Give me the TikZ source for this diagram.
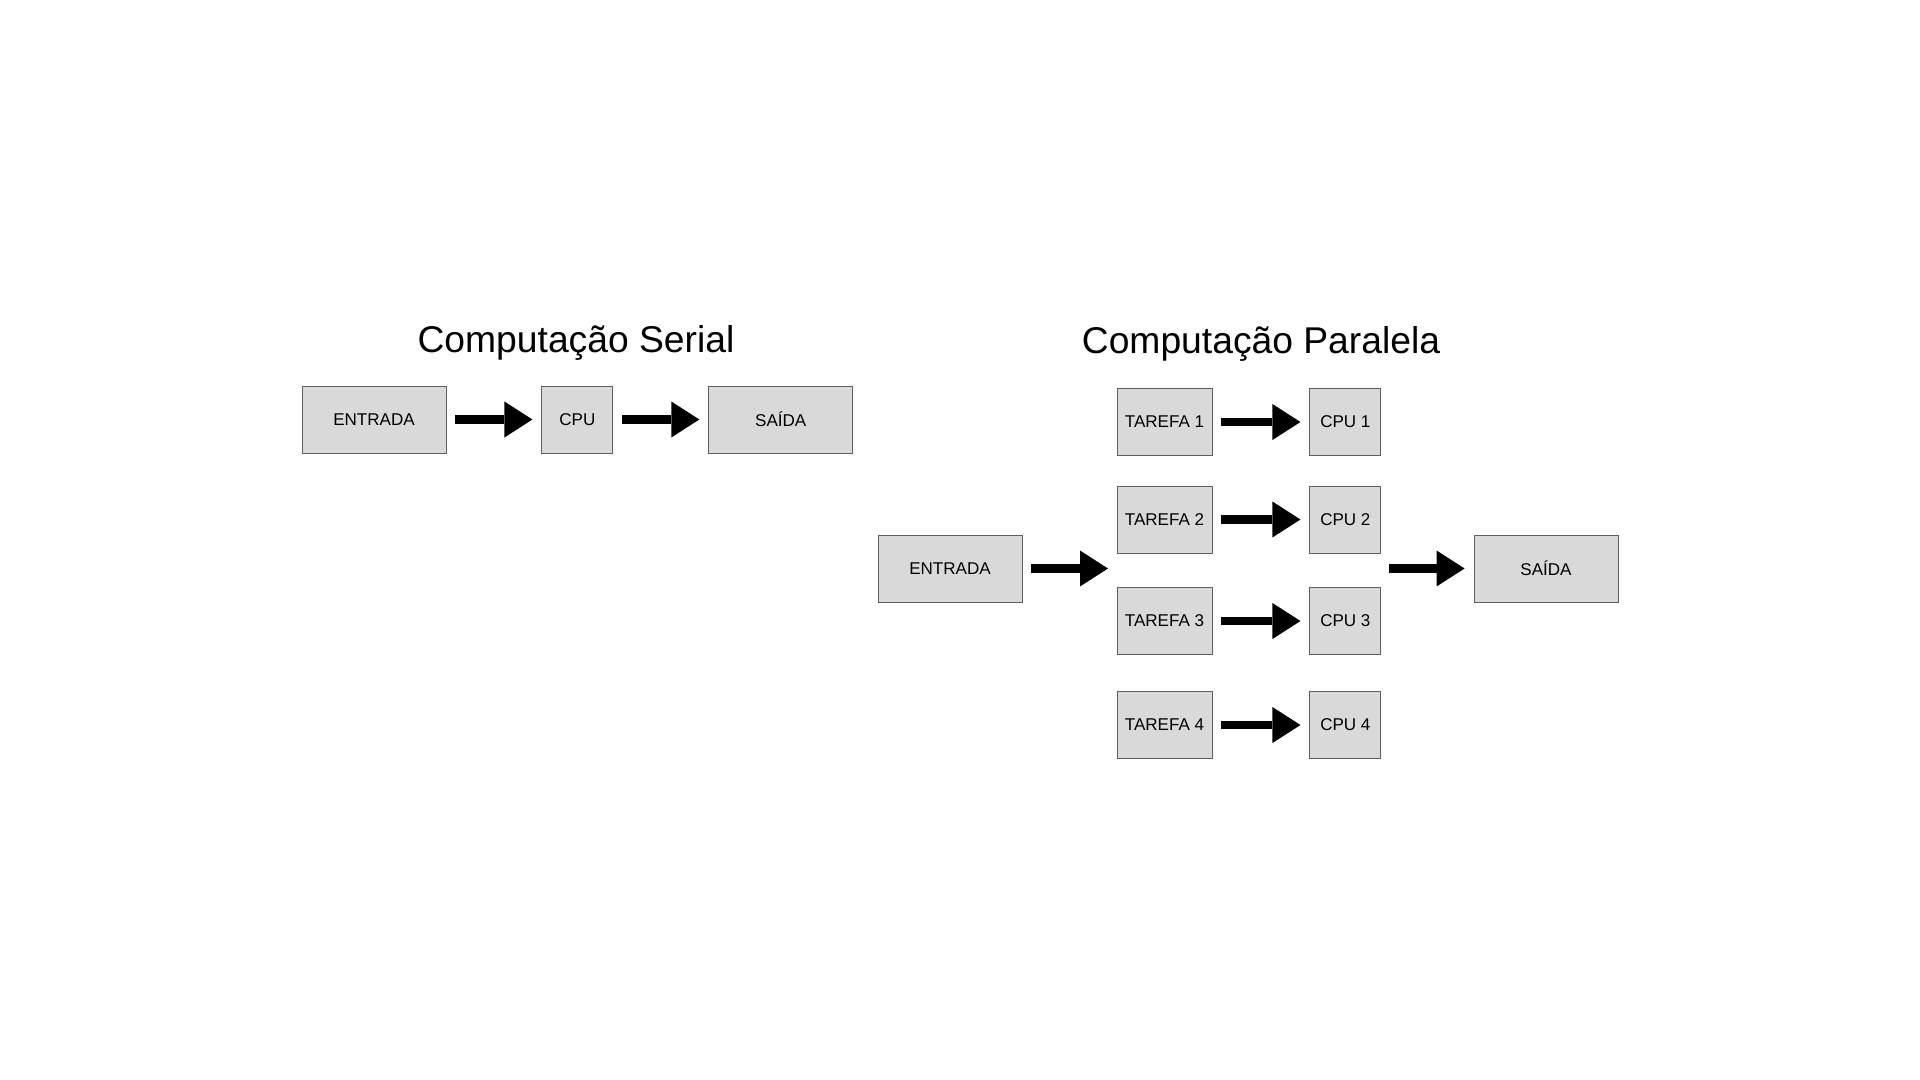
\documentclass[tikz,border=0pt]{standalone}
\usepackage{fontspec}
\setmainfont{Liberation Sans}
\usepackage{tikz}
\usetikzlibrary{arrows.meta,positioning}
\definecolor{boxgray}{RGB}{217,217,217}
\definecolor{edgegray}{RGB}{95,95,95}
\tikzset{
  bigbox/.style={draw=edgegray, line width=0.5pt, fill=boxgray, inner sep=0pt,
    minimum width=28.8mm, minimum height=13.4mm, align=center, font=\fontsize{9.7}{11}\selectfont},
  taskbox/.style={bigbox, minimum width=19mm},
  cpubox/.style={bigbox, minimum width=14.2mm},
  titletext/.style={anchor=base, font=\fontsize{21.2}{25}\selectfont},
  fatflow/.style={-{Triangle[length=5.6mm, width=7.2mm, line width=0pt]}, line width=1.7mm,
    shorten <=1.8mm, shorten >=1.8mm}
}
\begin{document}
\begin{tikzpicture}[x=0.2mm, y=-0.2mm, node distance=19mm]
\useasboundingbox (0,0) rectangle (1920,1080);

% serial
\node[titletext] (serialtitle) at (576,353) {Computação Serial};
\node[bigbox] (serialin) at (374,419.5) {ENTRADA};
\node[cpubox, right=of serialin] (serialcpu) {CPU};
\node[bigbox, right=of serialcpu] (serialout) {SAÍDA};

\draw[fatflow] (serialin) -- (serialcpu);
\draw[fatflow] (serialcpu) -- (serialout);

% parallel
\node[titletext] (paralleltitle) at (1261,354) {Computação Paralela};
\node[bigbox] (parin) at (950,568.5) {ENTRADA};
\node[taskbox] (task1) at (1164.5,422) {TAREFA 1};
\node[taskbox] (task2) at (1164.5,519.5) {TAREFA 2};
\node[taskbox] (task3) at (1164.5,621) {TAREFA 3};
\node[taskbox] (task4) at (1164.5,725) {TAREFA 4};
\node[cpubox, right=19.4mm of task1] (cpu1) {CPU 1};
\node[cpubox, right=19.4mm of task2] (cpu2) {CPU 2};
\node[cpubox, right=19.4mm of task3] (cpu3) {CPU 3};
\node[cpubox, right=19.4mm of task4] (cpu4) {CPU 4};
\node[bigbox] (parout) at (1546,568.5) {SAÍDA};
\coordinate (fork) at (1117,568.5);
\coordinate (join) at (1380,568.5);

\draw[fatflow] (parin) -- (fork);
\draw[fatflow] (task1) -- (cpu1);
\draw[fatflow] (task2) -- (cpu2);
\draw[fatflow] (task3) -- (cpu3);
\draw[fatflow] (task4) -- (cpu4);
\draw[fatflow] (join) -- (parout);
\end{tikzpicture}
\end{document}
